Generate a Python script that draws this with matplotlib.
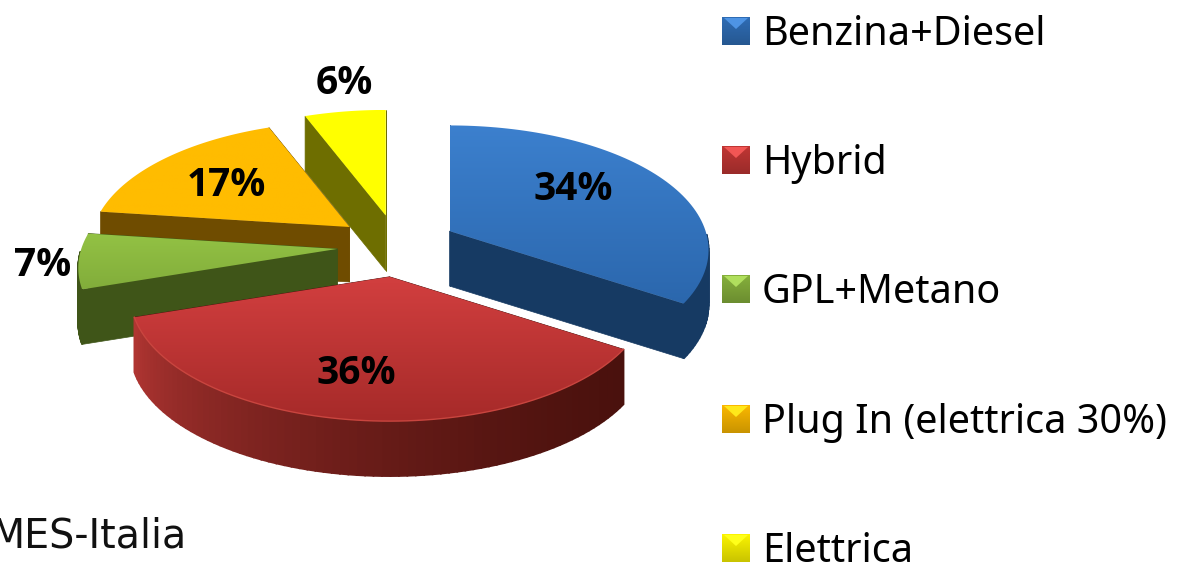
import numpy as np
import matplotlib
matplotlib.use("Agg")
import matplotlib.pyplot as plt
from matplotlib.colors import LinearSegmentedColormap, to_rgb
from matplotlib.patches import Polygon

categories = ["Benzina+Diesel", "Hybrid", "GPL+Metano", "Plug In (elettrica 30%)", "Elettrica"]
values = [34, 36, 7, 17, 6]
footer = "MES-Italia"

# top face gradient (top, bottom), wall colour at the two ends of the rim
top_colors = [("#3c80ce", "#2b67ad"), ("#d23f3f", "#a62a29"), ("#93c244", "#82ad3b"),
              ("#ffbc00", "#ffbc00"), ("#ffff00", "#ffff00")]
wall_colors = ["#163a63", "#4a110d", "#3f5518", "#6f4c00", "#6e6e00"]
rim_left = ["#163a63", "#b23633", "#3f5518", "#6f4c00", "#6e6e00"]
legend_colors = ["#2f6db5", "#c03634", "#86b03c", "#fbb800", "#fbf400"]

# pie geometry in pixels
cx, cy = 397, 246
rx, ry = 256, 125
persp = 0.155
depth = 55
ex, ey = 60, 31

# draw back to front
order = [4, 3, 2, 0, 1]
label_pos = [(573, 189), (356, 373), (43, 265), (226, 185), (344, 83)]
legend_base = [45, 174, 303, 433, 562]


def rim(t, ax0, ay0):
    s = 1 - persp * np.cos(t)
    return ax0 + rx * np.sin(t) * s, ay0 - ry * np.cos(t) * s


def gradient(ax, patch, c1, c2, box):
    cmap = LinearSegmentedColormap.from_list("g", [c1, c2])
    im = ax.imshow(np.linspace(0, 1, 256).reshape(-1, 1), cmap=cmap, aspect="auto",
                   extent=box, origin="upper", zorder=patch.get_zorder())
    im.set_clip_path(patch)


fig = plt.figure(figsize=(11.78, 5.65), dpi=100)
ax = fig.add_axes([0, 0, 1, 1])

edges = np.cumsum([0] + values) / sum(values) * 2 * np.pi
z = 1
for i in order:
    t1, t2 = edges[i], edges[i + 1]
    mid = (t1 + t2) / 2
    x0 = cx + ex * np.sin(mid)
    y0 = cy - ey * np.cos(mid)
    ts = np.linspace(t1, t2, 80)
    xs, ys = rim(ts, x0, y0)

    # cut walls
    for t, xe, ye in [(t2, xs[-1], ys[-1]), (t1, xs[0], ys[0])]:
        ax.add_patch(Polygon([(x0, y0), (xe, ye), (xe, ye + depth), (x0, y0 + depth)],
                             closed=True, fc=wall_colors[i], ec=wall_colors[i], lw=0.5, zorder=z))
    z += 1

    # rim wall, only the part that faces the viewer
    c_a = np.array(to_rgb(wall_colors[i]))
    c_b = np.array(to_rgb(rim_left[i]))
    for k in range(len(ts) - 1):
        if np.cos(ts[k]) < -0.02:
            f = (ts[k] - t1) / (t2 - t1)
            col = c_a + (c_b - c_a) * f ** 1.6
            ax.add_patch(Polygon([(xs[k], ys[k]), (xs[k + 1], ys[k + 1]),
                                  (xs[k + 1], ys[k + 1] + depth), (xs[k], ys[k] + depth)],
                                 closed=True, fc=col, ec=col, lw=1.2, zorder=z))
    z += 1

    # top face
    pts = np.column_stack([np.r_[x0, xs], np.r_[y0, ys]])
    top = Polygon(pts, closed=True, fc="none", ec="none", zorder=z)
    ax.add_patch(top)
    gradient(ax, top, top_colors[i][0], top_colors[i][1],
             (pts[:, 0].min(), pts[:, 0].max(), pts[:, 1].max(), pts[:, 1].min()))
    if i == 1:
        ax.plot(xs, ys, color="#c9453f", lw=1.0, zorder=z + 0.5)
    z += 1

for v, (lx, ly) in zip(values, label_pos):
    ax.text(lx, ly, f"{v}%", ha="center", va="center", fontsize=28, fontweight="bold",
            family="Open Sans", color="black", zorder=100)

# legend
for name, col, base in zip(categories, legend_colors, legend_base):
    col_rgb = np.array(to_rgb(col))
    light = np.clip(col_rgb * 1.12 + 0.1, 0, 1)
    dark = col_rgb * 0.8
    sq = Polygon([(722, base - 28), (750, base - 28), (750, base), (722, base)],
                 closed=True, fc="none", ec="none", zorder=50)
    ax.add_patch(sq)
    gradient(ax, sq, col_rgb, dark, (722, 750, base, base - 28))
    ax.add_patch(Polygon([(724, base - 27), (748, base - 27), (736, base - 16)],
                         closed=True, fc=light, ec="none", zorder=51))
    ax.text(762, base, name, ha="left", va="baseline", fontsize=28.5, family="Noto Sans",
            color="black", zorder=60)

ax.text(186, 547, footer, ha="right", va="baseline", fontsize=28.5, family="DejaVu Sans", color="#111111")

ax.set_xlim(0, 1178)
ax.set_ylim(565, 0)
ax.axis("off")
fig.savefig("out.png", dpi=100)
